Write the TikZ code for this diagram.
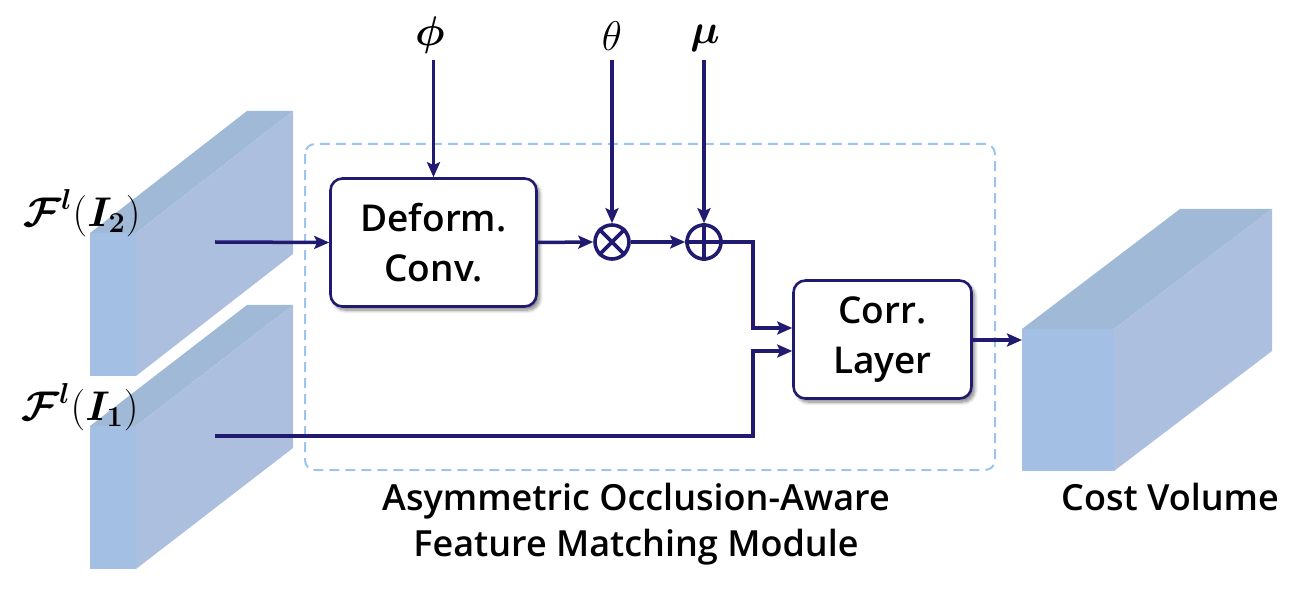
\documentclass[tikz,border=0pt]{standalone}
\usepackage{amsmath}
\usepackage{amssymb}
\usepackage{bm}
\usepackage{fontspec}
\setsansfont{Open Sans Semibold}
\usetikzlibrary{arrows.meta,positioning,shadows.blur}

\definecolor{navy}{RGB}{32,26,112}
\definecolor{frontblue}{RGB}{163,192,228}
\definecolor{topblue}{RGB}{160,185,215}
\definecolor{sideblue}{RGB}{173,191,222}
\definecolor{dashblue}{RGB}{156,196,236}

% slab: x, y of front top-left, width, height, depth right, depth up
\newcommand{\slab}[6]{%
  \fill[frontblue] (#1,#2) rectangle ++(#3,#4);
  \fill[topblue] (#1,#2) -- ++(#5,-#6) -- ++(#3,0) -- ++(-#5,#6) -- cycle;
  \fill[sideblue] ({#1+#3},#2) -- ++(#5,-#6) -- ++(0,#4) -- ++(-#5,#6) -- cycle;
}

\begin{document}
\begin{tikzpicture}[x=0.5pt,y=-0.5pt,>={Stealth[length=7.5pt,width=6.5pt,inset=1.5pt]},
			line width=1.75pt,draw=navy,
			block/.style={draw=navy,line width=1.3pt,rounded corners=6pt,fill=white,
				blur shadow={shadow xshift=1.5pt,shadow yshift=-1.8pt,shadow blur steps=8,shadow opacity=50},
				align=center,font=\sffamily\fontsize{18.5}{25}\selectfont},
			op/.style={circle,draw=navy,line width=1.8pt,minimum size=17pt,inner sep=0pt,fill=white},
			lbl/.style={font=\sffamily\fontsize{18}{22}\selectfont,align=center},
			sym/.style={inner sep=1pt,font=\fontsize{21}{21}\selectfont},
			feat/.style={inner sep=0pt,font=\fontsize{20}{20}\selectfont}]
	\useasboundingbox (0,0) rectangle (1316,598);

	\slab{90}{233}{46}{143}{157}{122}
	\slab{90}{426}{46}{143}{157}{121}
	\slab{1022}{329}{92}{142}{158}{120}

	\draw[dashblue,line width=1pt,dash pattern=on 5pt off 3pt,rounded corners=5pt]
		(305,144) rectangle (995,470);

	\node[block,minimum width=103pt,minimum height=64pt] (deform) at (433.5,242.5) {Deform.\\Conv.};
	\node[block,minimum width=89pt,minimum height=59pt] (corr) at (882.5,339.5) {Corr.\\Layer};
	\node[op] (mul) at (612,242) {};
	\node[op] (add) at (704,242) {};
	\draw[navy,line width=1.8pt] (mul.north west) -- (mul.south east) (mul.north east) -- (mul.south west);
	\draw[navy,line width=1.8pt] (add.north) -- (add.south) (add.west) -- (add.east);

	\node[sym] (phi) at (430,35) {$\bm{\phi}$};
	\node[sym] (theta) at (612,36) {$\theta$};
	\node[sym] (mu) at (705,38) {$\bm{\mu}$};
	\node[feat] (f2) at (82,213) {$\bm{\mathcal{F}}^{\bm{l}}(\bm{I_2})$};
	\node[feat] (f1) at (80,407) {$\bm{\mathcal{F}}^{\bm{l}}(\bm{I_1})$};
	\node[lbl] (module) at (636,524) {Asymmetric Occlusion-Aware\\[1pt]Feature Matching Module};
	\node[lbl] (cost) at (1170,497) {Cost Volume};

	\coordinate (in2) at (215,242);
	\coordinate (in1) at (215,436);
	\coordinate (bend) at (753,0);
	\coordinate (vol) at (1022,340);

	\draw[->,navy] (deform.north |- 0,60) -- (deform.north);
	\draw[->,navy] (mul.north |- 0,60) -- (mul.north);
	\draw[->,navy] (add.north |- 0,60) -- (add.north);
	\draw[->,navy] (in2) -- (deform.west);
	\draw[->,navy] (deform.east) -- (mul.west);
	\draw[->,navy] (mul.east) -- (add.west);
	\draw[->,navy] (add.east) -- (bend |- add.east) -- (bend |- 0,328) -- (corr.west |- 0,328);
	\draw[->,navy] (in1) -- (bend |- in1) -- (bend |- 0,351) -- (corr.west |- 0,351);
	\draw[->,navy] (corr.east |- vol) -- (vol);
\end{tikzpicture}
\end{document}
